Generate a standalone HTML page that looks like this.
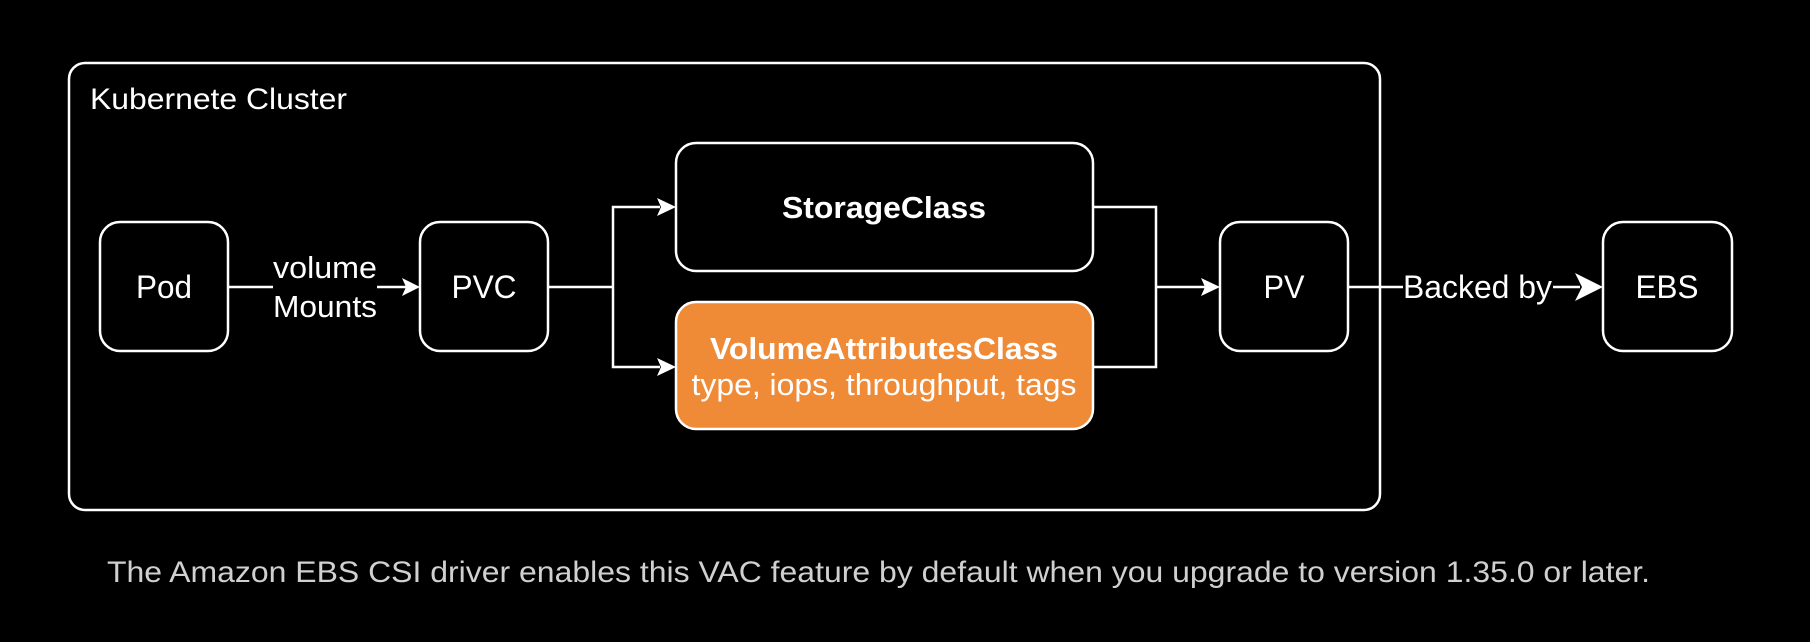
<!DOCTYPE html>
<html><head><meta charset="utf-8"><style>
html,body{margin:0;padding:0;background:#000;}
svg{display:block;}
text{font-family:"Liberation Sans",Arial,sans-serif;fill:#fff;}
</style></head><body>
<svg width="1810" height="642" viewBox="0 0 1810 642" xmlns="http://www.w3.org/2000/svg">
<rect width="1810" height="642" fill="#000"/>
<g fill="none" stroke="#fff" stroke-width="2.5">
<rect x="69" y="63" width="1311" height="447" rx="16"/>
<rect x="100" y="222" width="128" height="129" rx="20"/>
<rect x="420" y="222" width="128" height="129" rx="20"/>
<rect x="676" y="143" width="417" height="128" rx="20"/>
<rect x="676" y="302" width="417" height="127" rx="20" fill="#EF8A37"/>
<rect x="1220" y="222" width="128" height="129" rx="20"/>
<rect x="1603" y="222" width="129" height="129" rx="20"/>
<path d="M228 287 H273 M377 287 H408"/>
<path d="M548 287 H613 V207 H660 M613 287 V367 H660"/>
<path d="M1093 207 H1156 V367 H1093 M1156 287 H1205"/>
<path d="M1348 287 H1403 M1553 287 H1580"/>
</g>
<g fill="#fff">
<path d="M420 287 L402 278 L406 287 L402 296 Z"/>
<path d="M676 207 L657 198 L661 207 L657 216 Z"/>
<path d="M676 367 L657 358 L661 367 L657 376 Z"/>
<path d="M1220 287 L1201 278 L1205 287 L1201 296 Z"/>
<path d="M1603 287 L1575 273 L1582 287 L1575 301 Z"/>
</g>
<text x="90" y="109" font-size="30" textLength="257" lengthAdjust="spacingAndGlyphs">Kubernete Cluster</text>
<text x="164" y="298" font-size="32" text-anchor="middle" textLength="56" lengthAdjust="spacingAndGlyphs">Pod</text>
<text x="325" y="278" font-size="31" text-anchor="middle" textLength="104" lengthAdjust="spacingAndGlyphs">volume</text>
<text x="325" y="317" font-size="31" text-anchor="middle" textLength="104" lengthAdjust="spacingAndGlyphs">Mounts</text>
<text x="484" y="298" font-size="32" text-anchor="middle" textLength="65" lengthAdjust="spacingAndGlyphs">PVC</text>
<text x="884" y="218" font-size="31" font-weight="bold" text-anchor="middle" textLength="204" lengthAdjust="spacingAndGlyphs">StorageClass</text>
<text x="884" y="359" font-size="31" font-weight="bold" text-anchor="middle" textLength="348" lengthAdjust="spacingAndGlyphs">VolumeAttributesClass</text>
<text x="884" y="395" font-size="31" text-anchor="middle" textLength="385" lengthAdjust="spacingAndGlyphs">type, iops, throughput, tags</text>
<text x="1284" y="298" font-size="32" text-anchor="middle" textLength="41" lengthAdjust="spacingAndGlyphs">PV</text>
<text x="1403" y="298" font-size="32" textLength="149" lengthAdjust="spacingAndGlyphs">Backed by</text>
<text x="1667" y="298" font-size="32" text-anchor="middle" textLength="63" lengthAdjust="spacingAndGlyphs">EBS</text>
<text x="107" y="582" font-size="30" style="fill:#d0d0d0" textLength="1543" lengthAdjust="spacingAndGlyphs">The Amazon EBS CSI driver enables this VAC feature by default when you upgrade to version 1.35.0 or later.</text>
</svg>
</body></html>
